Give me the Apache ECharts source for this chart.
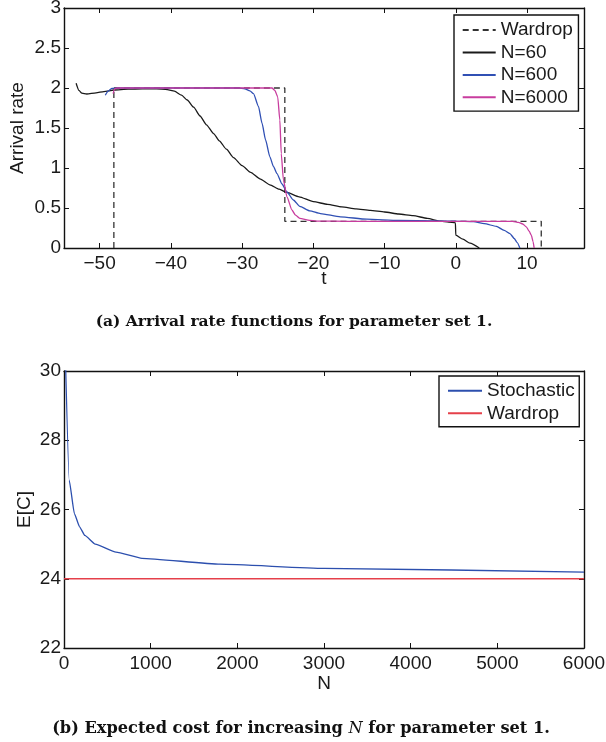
<!DOCTYPE html>
<html>
<head>
<meta charset="utf-8">
<script src="https://cdn.jsdelivr.net/npm/echarts@6/dist/echarts.min.js"></script>
<style>
html,body{margin:0;padding:0;background:#fff;}
#c{width:606px;height:742px;}
</style>
</head>
<body>
<div id="c"></div>
<script>
// ---------- Chart (a): arrival rate functions ----------
const xTicksA = [-50, -40, -30, -20, -10, 0, 10];

const tWardrop = [-48, -48, -24, -24, 12, 12];
const rWardrop = [0, 2, 2, 0.333, 0.333, 0];

const tN60 = [-53.3, -52.9, -52.5, -51.8, -50.5, -49.4, -48, -46, -44, -42, -40.5, -39.5, -38.5, -37.7, -36.8, -35.9, -35, -34, -33.2, -32.2, -31.2, -30, -28.8, -27.5, -26.1, -24.8, -23.7, -22, -20, -18, -16, -14, -12, -10, -8, -6, -4, -2.2, -1, -0.05, 0, 1, 2, 3.3];
const rN60 = [2.06, 1.97, 1.935, 1.925, 1.94, 1.955, 1.975, 1.985, 1.99, 1.99, 1.98, 1.96, 1.91, 1.85, 1.76, 1.65, 1.54, 1.43, 1.34, 1.235, 1.13, 1.03, 0.945, 0.865, 0.79, 0.735, 0.695, 0.64, 0.58, 0.545, 0.515, 0.49, 0.47, 0.45, 0.425, 0.405, 0.37, 0.335, 0.325, 0.315, 0.16, 0.11, 0.06, 0];

const tN600 = [-49.2, -48.8, -48.3, -47, -30.5, -29.6, -28.9, -28.4, -27.7, -27.2, -26.7, -26.1, -25.6, -25.1, -24.4, -23.7, -22.8, -21.9, -20.5, -19, -16.2, -12.5, -8, -3, 0, 2.5, 4, 5.7, 6.8, 7.6, 8.2, 8.6, 9.0];
const rN600 = [1.91, 1.96, 1.995, 2.0, 2.0, 1.99, 1.965, 1.93, 1.77, 1.56, 1.35, 1.14, 1.02, 0.93, 0.8, 0.70, 0.6, 0.52, 0.465, 0.43, 0.39, 0.36, 0.345, 0.338, 0.335, 0.33, 0.305, 0.27, 0.22, 0.18, 0.12, 0.07, 0];

const tN6000 = [-48.1, -47.9, -47.5, -25.8, -25.4, -25.0, -24.7, -24.5, -24.2, -23.7, -23.0, -22.5, -21.9, -20.5, -19.6, -15, 8, 8.8, 9.4, 9.9, 10.3, 10.6, 10.85, 11.0];
const rN6000 = [1.93, 1.99, 2.0, 2.0, 1.97, 1.89, 1.6, 1.18, 0.85, 0.64, 0.475, 0.41, 0.37, 0.345, 0.337, 0.333, 0.333, 0.32, 0.3, 0.265, 0.21, 0.16, 0.08, 0];

// ---------- Chart (b): expected cost ----------
const nValues = [6, 60, 120, 180, 240, 360, 600, 900, 1800, 3000, 6000];
const costStochastic = [31.4, 26.85, 25.88, 25.5, 25.25, 25.0, 24.77, 24.59, 24.42, 24.30, 24.19];
const nWardrop = [0, 6000];
const costWardrop = [24, 24];

const zip = (a, b) => a.map((v, i) => [v, b[i]]);

const FONT = 'Liberation Sans, Arial, Helvetica, sans-serif';
const FS = 19;
const TXT = '#1a1a1a';
const minus = v => String(v).replace('-', '\u2212');

function boxAxes(gridIndex, xMin, xMax, xOpts, yMin, yMax, yOpts, xName, yName, xNameGap, yNameGap) {
  const common = {
    axisLine: { show: true, onZero: false, lineStyle: { color: '#111', width: 1.4 } },
    axisTick: { show: true, inside: true, length: 5, lineStyle: { color: '#111', width: 1 } },
    splitLine: { show: false }
  };
  const xs = [
    Object.assign({}, common, xOpts, {
      type: 'value', gridIndex, position: 'bottom', min: xMin, max: xMax,
      name: xName, nameLocation: 'middle', nameGap: xNameGap, nameMoveOverlap: false,
      nameTextStyle: { fontFamily: FONT, fontSize: FS, color: TXT },
      axisLabel: Object.assign({ fontFamily: FONT, fontSize: FS, color: TXT, margin: 6, formatter: minus }, xOpts.axisLabel || {})
    }),
    Object.assign({}, common, xOpts, {
      type: 'value', gridIndex, position: 'top', min: xMin, max: xMax,
      axisLabel: { show: false }
    })
  ];
  const ys = [
    Object.assign({}, common, yOpts, {
      type: 'value', gridIndex, position: 'left', min: yMin, max: yMax,
      name: yName, nameLocation: 'middle', nameGap: yNameGap, nameMoveOverlap: false,
      nameTextStyle: { fontFamily: FONT, fontSize: FS, color: TXT },
      axisLabel: { fontFamily: FONT, fontSize: FS, color: TXT, margin: 3 }
    }),
    Object.assign({}, common, yOpts, {
      type: 'value', gridIndex, position: 'right', min: yMin, max: yMax,
      axisLabel: { show: false }
    })
  ];
  return { xs, ys };
}

const A = boxAxes(0, -55, 18,
  { axisTick: { show: true, inside: true, length: 5, customValues: xTicksA, lineStyle: { color: '#111', width: 1 } },
    axisLabel: { customValues: xTicksA } },
  0, 3, { interval: 0.5 }, 't', 'Arrival rate', 21, 36.5);
const B = boxAxes(1, 0, 6000, { interval: 1000 }, 22, 30, { interval: 2 }, 'N', 'E[C]', 26, 29.5);

const chart = echarts.init(document.getElementById('c'), null, { renderer: 'canvas' });

const lineBase = { type: 'line', symbol: 'none', showSymbol: false, animation: false };

const legendCommon = {
  orient: 'vertical',
  itemHeight: 10,
  backgroundColor: '#fff', borderColor: '#111', borderWidth: 1.4, borderRadius: 0,
  itemStyle: { opacity: 0 },
  textStyle: { fontFamily: FONT, fontSize: FS, color: TXT, lineHeight: 19 },
  selectedMode: false
};

chart.setOption({
  animation: false,
  backgroundColor: '#fff',
  grid: [
    { left: 64, top: 8, width: 520, height: 240, containLabel: false, outerBoundsMode: 'none' },
    { left: 64, top: 371, width: 520, height: 277, containLabel: false, outerBoundsMode: 'none' }
  ],
  xAxis: [A.xs[0], A.xs[1], B.xs[0], B.xs[1]],
  yAxis: [A.ys[0], A.ys[1], B.ys[0], B.ys[1]],
  legend: [
    Object.assign({}, legendCommon, {
      data: ['Wardrop', 'N=60', 'N=600', 'N=6000'],
      left: 454, top: 15,
      padding: [5.6, 5.6, 4.3, 7.7],
      itemWidth: 33, itemGap: 3.4
    }),
    Object.assign({}, legendCommon, {
      data: ['Stochastic', 'Wardrop '],
      formatter: n => n.trim(),
      left: 439, top: 376,
      padding: [5.2, 4.6, 3.9, 8],
      itemWidth: 34, itemGap: 3.6
    })
  ],
  series: [
    Object.assign({}, lineBase, {
      name: 'Wardrop', xAxisIndex: 0, yAxisIndex: 0,
      data: zip(tWardrop, rWardrop),
      lineStyle: { color: '#333', width: 1.3, type: [6, 4] }, itemStyle: { color: '#333' }
    }),
    Object.assign({}, lineBase, {
      name: 'N=60', xAxisIndex: 0, yAxisIndex: 0,
      data: zip(tN60, rN60), smooth: 0.2, smoothMonotone: 'x',
      lineStyle: { color: '#1a1a1a', width: 1.3 }, itemStyle: { color: '#1a1a1a' }
    }),
    Object.assign({}, lineBase, {
      name: 'N=600', xAxisIndex: 0, yAxisIndex: 0,
      data: zip(tN600, rN600), smooth: 0.2, smoothMonotone: 'x',
      lineStyle: { color: '#3050b4', width: 1.3 }, itemStyle: { color: '#3050b4' }
    }),
    Object.assign({}, lineBase, {
      name: 'N=6000', xAxisIndex: 0, yAxisIndex: 0,
      data: zip(tN6000, rN6000), smooth: 0.2, smoothMonotone: 'x',
      lineStyle: { color: '#c83c9e', width: 1.3 }, itemStyle: { color: '#c83c9e' }
    }),
    Object.assign({}, lineBase, {
      name: 'Stochastic', xAxisIndex: 2, yAxisIndex: 2,
      data: zip(nValues, costStochastic), smooth: 0.15, smoothMonotone: 'x',
      lineStyle: { color: '#2c4fae', width: 1.3 }, itemStyle: { color: '#2c4fae' }
    }),
    Object.assign({}, lineBase, {
      name: 'Wardrop ', xAxisIndex: 2, yAxisIndex: 2,
      data: zip(nWardrop, costWardrop),
      lineStyle: { color: '#e5404a', width: 1.5 }, itemStyle: { color: '#e5404a' }
    })
  ],
  graphic: [
    {
      type: 'text', x: 294, y: 322,
      style: {
        text: '(a) Arrival rate functions for parameter set 1.',
        font: 'bold 15.5px "DejaVu Serif", serif', fill: '#111',
        align: 'center', verticalAlign: 'middle'
      }
    },
    {
      type: 'text', x: 301, y: 729,
      style: {
        text: '{b|(b) Expected cost for increasing }{i|N}{b| for parameter set 1.}',
        align: 'center', verticalAlign: 'middle', fill: '#111',
        rich: {
          b: { font: 'bold 16.2px "DejaVu Serif", serif', fill: '#111' },
          i: { font: 'italic 16.2px "DejaVu Serif", serif', fill: '#111' }
        }
      }
    }
  ]
});
</script>
</body>
</html>
